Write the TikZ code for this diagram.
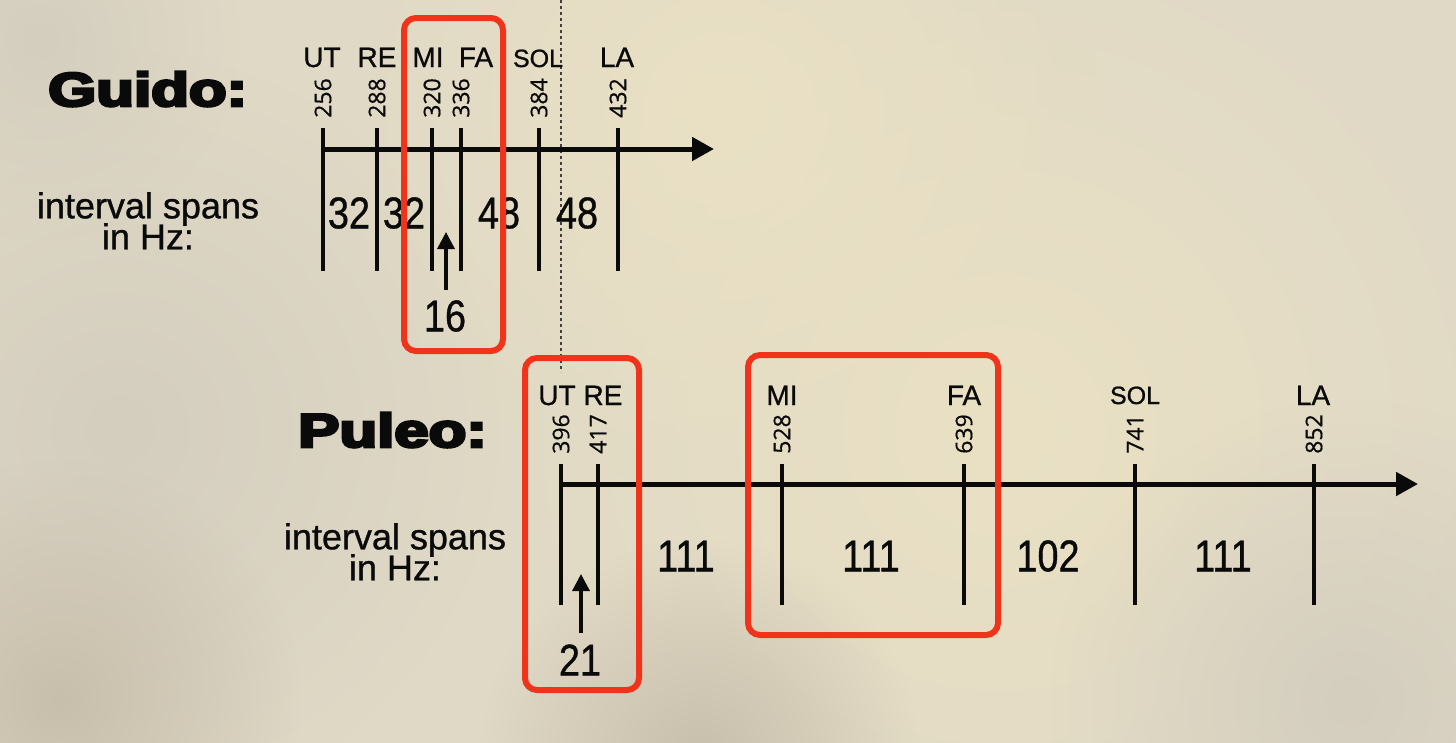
\documentclass[tikz,border=0pt]{standalone}
\usepackage{fontspec}
\setmainfont{Liberation Sans}[UprightFeatures={FakeBold=0.9}]
\newfontfamily\titlefont{Liberation Sans}[BoldFeatures={FakeBold=5.5}]
\newfontfamily\numfont{Open Sans}[UprightFeatures={FakeBold=0.6}]
\usetikzlibrary{arrows.meta,fadings}
\definecolor{paper}{RGB}{224,217,198}
\definecolor{paperyel}{RGB}{234,225,196}
\definecolor{papergrey}{RGB}{212,206,191}
\definecolor{paperdark}{RGB}{200,190,172}
\definecolor{boxred}{RGB}{240,52,28}
\definecolor{ink}{RGB}{10,10,10}
\tikzfading[name=blob, inner color=transparent!0, outer color=transparent!100]
\tikzset{
  axisline/.style={line width=5pt, ink, -{Triangle[length=22pt,width=23pt]}},
  tickline/.style={line width=3.2pt, ink},
  notelbl/.style={font=\fontsize{28}{30}\selectfont, text=ink, inner sep=0pt, anchor=base},
  sollbl/.style={font=\fontsize{25}{27}\selectfont, text=ink, inner sep=0pt, anchor=base},
  freqlbl/.style={font=\numfont\fontsize{23}{25}\selectfont, text=ink, inner sep=0pt, rotate=90, anchor=center},
  spanlbl/.style={font=\fontsize{44.5}{46}\selectfont, text=ink, inner sep=0pt, anchor=center, xscale=0.85},
  sidelbl/.style={font={\fontsize{36}{31}\selectfont\lineskiplimit=-100pt}, text=ink, inner sep=0pt, anchor=north, align=center},
  titlelbl/.style={font=\titlefont\bfseries\fontsize{47.5}{50}\selectfont, text=ink, inner sep=0pt, anchor=base west, xscale=1.3},
  redbox/.style={draw=boxred, line width=6pt, rounded corners=12pt},
  uparrow/.style={line width=3.5pt, ink, -{Triangle[length=17pt,width=17pt]}},
  dotline/.style={line width=1.3pt, dash pattern=on 3pt off 3pt, black!75},
  blobfill/.style={fill=#1, path fading=blob}
}
\begin{document}
\begin{tikzpicture}[x=1pt,y=-1pt]
\useasboundingbox (0,0) rectangle (1456,742);
% paper background
\begin{scope}
\clip (-4,-4) rectangle (1460,746);
\fill[paper] (-4,-4) rectangle (1460,746);
\fill[blobfill=paperyel] (1000,430) circle (520);
\fill[blobfill=paperyel] (720,110) circle (380);
\fill[blobfill=papergrey] (120,430) circle (380);
\fill[blobfill=papergrey] (1350,700) circle (300);
\fill[blobfill=paperdark] (60,700) circle (240);
\fill[blobfill=paperdark] (700,760) circle (220);
\fill[blobfill=papergrey] (40,40) circle (200);
\end{scope}

% dotted guide
\coordinate (dotA) at (561,0);
\coordinate (dotB) at (561,372);
\draw[dotline] (dotA) -- (dotB);

% ===== Guido =====
\node[titlelbl] (gtitle) at (48,106) {Guido:};
\node[sidelbl] (gside) at (148,192) {interval spans\\in Hz:};

\coordinate (gaxA) at (323,149);
\coordinate (gaxB) at (714,149);
\draw[axisline] (gaxA) -- (gaxB);

\foreach \i/\x/\lx/\n/\v in {1/323/322/UT/256, 2/377/377/RE/288, 3/432/428/MI/320, 4/461/476/FA/336, 6/618/617/LA/432}{
  \coordinate (gt\i) at (\x,128);
  \coordinate (gb\i) at (\x,271);
  \draw[tickline] (gt\i) -- (gb\i);
  \node[notelbl] (gn\i) at (\lx,67) {\n};
  \node[freqlbl] (gf\i) at (\x,98) {\v};
}
\coordinate (gt5) at (539,128);
\coordinate (gb5) at (539,271);
\draw[tickline] (gt5) -- (gb5);
\node[sollbl] (gn5) at (538,67) {SOL};
\node[freqlbl] (gf5) at (539,98) {384};

\node[spanlbl] (gs1) at (349,213) {32};
\node[spanlbl] (gs2) at (404,213) {32};
\node[spanlbl] (gs3) at (499,213) {48};
\node[spanlbl] (gs4) at (577,213) {48};
\node[spanlbl] (gs16) at (445,316) {16};
\coordinate (garrA) at (446,290);
\coordinate (garrB) at (446,232);
\draw[uparrow] (garrA) -- (garrB);

\draw[redbox] (404,18) rectangle (503,351);

% ===== Puleo =====
\node[titlelbl] (ptitle) at (298,447) {Puleo:};
\node[sidelbl] (pside) at (395,523) {interval spans\\in Hz:};

\coordinate (paxA) at (561,484);
\coordinate (paxB) at (1418,484);
\draw[axisline] (paxA) -- (paxB);

\foreach \i/\x/\lx/\n/\v in {1/561/557/UT/396, 2/598/603/RE/417, 3/782/782/MI/528, 4/964/964/FA/639, 6/1314/1313/LA/852}{
  \coordinate (pt\i) at (\x,464);
  \coordinate (pb\i) at (\x,605);
  \draw[tickline] (pt\i) -- (pb\i);
  \node[notelbl] (pn\i) at (\lx,405) {\n};
  \node[freqlbl] (pf\i) at (\x,434) {\v};
}
\coordinate (pt5) at (1135,464);
\coordinate (pb5) at (1135,605);
\draw[tickline] (pt5) -- (pb5);
\node[sollbl] (pn5) at (1135,404) {SOL};
\node[freqlbl] (pf5) at (1135,434) {741};

\node[spanlbl] (ps1) at (686,556) {111};
\node[spanlbl] (ps2) at (871,556) {111};
\node[spanlbl] (ps3) at (1048,556) {102};
\node[spanlbl] (ps4) at (1223,556) {111};
\node[spanlbl] (ps21) at (580,660) {21};
\coordinate (parrA) at (581,633);
\coordinate (parrB) at (581,574);
\draw[uparrow] (parrA) -- (parrB);

\draw[redbox] (525,358) rectangle (639,690);
\draw[redbox] (748,355) rectangle (998,635);
\end{tikzpicture}
\end{document}
